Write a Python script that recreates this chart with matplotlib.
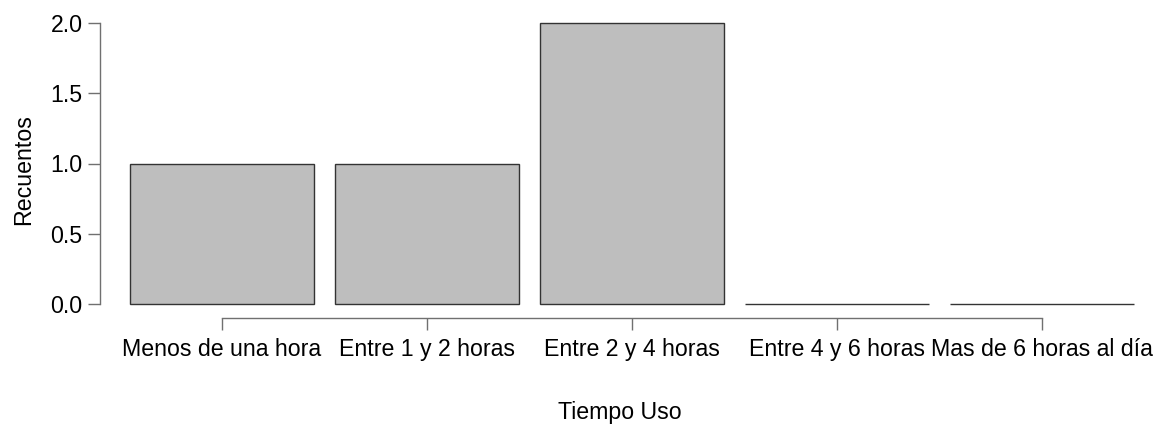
import numpy as np
import matplotlib.pyplot as plt

plt.rcParams['font.family'] = ['Liberation Sans', 'DejaVu Sans']

categorias = ['Menos de una hora', 'Entre 1 y 2 horas', 'Entre 2 y 4 horas',
              'Entre 4 y 6 horas', 'Mas de 6 horas al día']
recuentos = [1, 1, 2, 0, 0]
y_ticks = [0.0, 0.5, 1.0, 1.5, 2.0]
y_tick_labels = ['0.0', '0.5', '1.0', '1.5', '2.0']

W, H = 1157, 428
fig = plt.figure(figsize=(W / 100, H / 100), dpi=100)
ax = fig.add_axes([100 / W, (H - 318) / H, (1140 - 100) / W, (318 - 22) / H])

x = np.arange(len(categorias))
ax.bar(x, recuentos, width=184 / 205, color='#bebebe', edgecolor='#333333', linewidth=1.0)

ax.set_xlim((100 - 222) / 205, (1140 - 222) / 205)
ax.set_ylim(-14 * 2 / 281, 2 + 1 * 2 / 281)

axis_color = '#707070'
for side in ['top', 'right']:
    ax.spines[side].set_visible(False)
ax.spines['left'].set_bounds(0, 2)
ax.spines['bottom'].set_bounds(0, len(categorias) - 1)
for side in ['left', 'bottom']:
    ax.spines[side].set_color(axis_color)
    ax.spines[side].set_linewidth(1.0)

ax.set_yticks(y_ticks)
ax.set_yticklabels(y_tick_labels)
ax.set_xticks(x)
ax.set_xticklabels(categorias)
ax.tick_params(axis='both', colors=axis_color, labelcolor='black', labelsize=16.7,
               length=8.5, width=1.0)
ax.tick_params(axis='x', pad=6)
ax.tick_params(axis='y', pad=4)

ax.set_xlabel('Tiempo Uso', fontsize=16.7, labelpad=29)
ax.set_ylabel('Recuentos', fontsize=16.7, labelpad=11)

fig.savefig('out.png', dpi=100)
